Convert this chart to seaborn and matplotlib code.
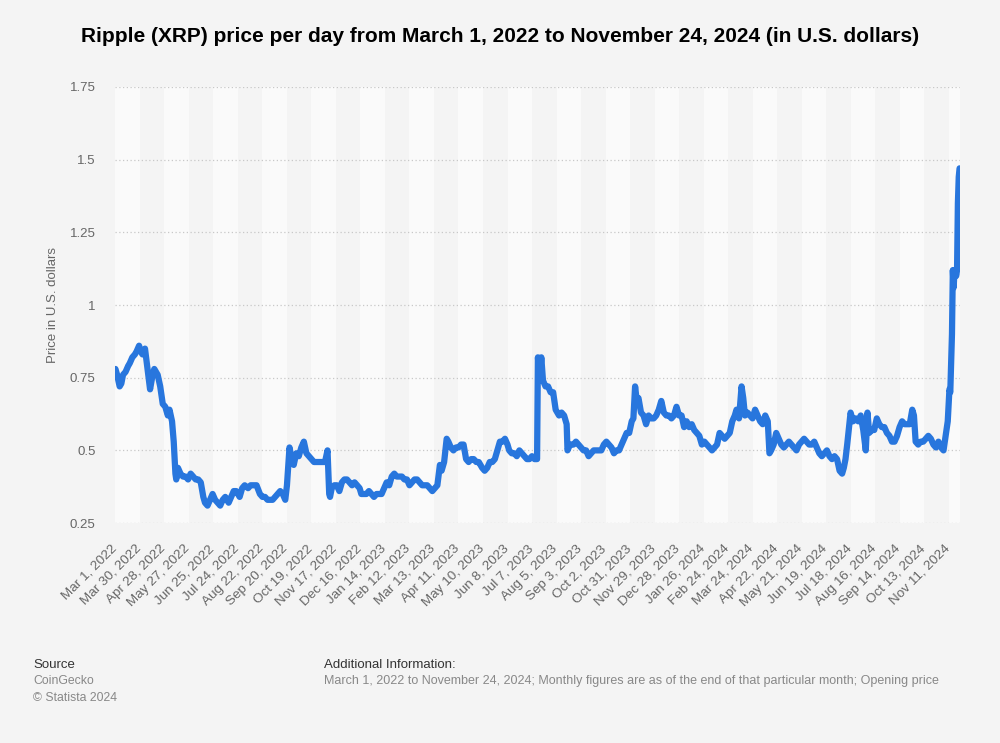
import matplotlib
matplotlib.use("Agg")
import matplotlib.pyplot as plt
import matplotlib.transforms as mtransforms
import seaborn as sns
import pandas as pd

# ---- data ----
dates = [
 "2022-03-01","2022-03-03","2022-03-06","2022-03-08","2022-03-10","2022-03-13","2022-03-16","2022-03-18","2022-03-21","2022-03-24","2022-03-26","2022-03-29","2022-03-31",
 "2022-04-02","2022-04-05","2022-04-08","2022-04-11","2022-04-14","2022-04-16","2022-04-20","2022-04-23","2022-04-26","2022-04-29",
 "2022-05-02","2022-05-04","2022-05-07","2022-05-09","2022-05-11","2022-05-12","2022-05-14","2022-05-17","2022-05-20","2022-05-23","2022-05-26","2022-05-29",
 "2022-06-01","2022-06-04","2022-06-07","2022-06-10","2022-06-13","2022-06-15","2022-06-18","2022-06-21","2022-06-24","2022-06-27","2022-06-30",
 "2022-07-03","2022-07-06","2022-07-09","2022-07-13","2022-07-16","2022-07-19","2022-07-22","2022-07-26","2022-07-29",
 "2022-08-01","2022-08-05","2022-08-08","2022-08-12","2022-08-15","2022-08-19","2022-08-22","2022-08-25","2022-08-28","2022-08-31",
 "2022-09-03","2022-09-06","2022-09-09","2022-09-12","2022-09-15","2022-09-18","2022-09-20","2022-09-23","2022-09-25","2022-09-28",
 "2022-10-01","2022-10-04","2022-10-07","2022-10-10","2022-10-13","2022-10-16","2022-10-19","2022-10-22","2022-10-26","2022-10-29",
 "2022-11-01","2022-11-04","2022-11-07","2022-11-09","2022-11-10","2022-11-12","2022-11-15","2022-11-18","2022-11-21","2022-11-24","2022-11-27","2022-11-30",
 "2022-12-03","2022-12-06","2022-12-09","2022-12-12","2022-12-15","2022-12-17","2022-12-20","2022-12-23","2022-12-26","2022-12-29",
 "2023-01-01","2023-01-04","2023-01-07","2023-01-10","2023-01-13","2023-01-16","2023-01-19","2023-01-22","2023-01-25","2023-01-28","2023-01-31",
 "2023-02-03","2023-02-06","2023-02-09","2023-02-12","2023-02-15","2023-02-18","2023-02-21","2023-02-24","2023-02-27",
 "2023-03-02","2023-03-05","2023-03-08","2023-03-11","2023-03-14","2023-03-17","2023-03-20","2023-03-22","2023-03-25","2023-03-28","2023-03-30",
 "2023-04-02","2023-04-05","2023-04-08","2023-04-11","2023-04-14","2023-04-17","2023-04-20","2023-04-23","2023-04-26","2023-04-29",
 "2023-05-02","2023-05-05","2023-05-09","2023-05-12","2023-05-15","2023-05-18","2023-05-21","2023-05-24","2023-05-27","2023-05-30",
 "2023-06-02","2023-06-05","2023-06-08","2023-06-10","2023-06-13","2023-06-16","2023-06-19","2023-06-22","2023-06-25","2023-06-28",
 "2023-07-01","2023-07-04","2023-07-07","2023-07-10","2023-07-13","2023-07-14","2023-07-16","2023-07-18","2023-07-20","2023-07-23","2023-07-26","2023-07-29",
 "2023-08-01","2023-08-04","2023-08-08","2023-08-11","2023-08-14","2023-08-17","2023-08-18","2023-08-21","2023-08-25","2023-08-28","2023-08-31",
 "2023-09-03","2023-09-06","2023-09-09","2023-09-12","2023-09-15","2023-09-18","2023-09-21","2023-09-24","2023-09-27","2023-09-30",
 "2023-10-03","2023-10-06","2023-10-09","2023-10-12","2023-10-15","2023-10-18","2023-10-21","2023-10-24","2023-10-27","2023-10-30",
 "2023-11-02","2023-11-04","2023-11-06","2023-11-08","2023-11-10","2023-11-13","2023-11-16","2023-11-19","2023-11-22","2023-11-25","2023-11-28",
 "2023-12-01","2023-12-04","2023-12-07","2023-12-10","2023-12-13","2023-12-16","2023-12-19","2023-12-22","2023-12-25","2023-12-28","2023-12-31",
 "2024-01-03","2024-01-06","2024-01-09","2024-01-12","2024-01-15","2024-01-18","2024-01-21","2024-01-24","2024-01-27","2024-01-30",
 "2024-02-02","2024-02-05","2024-02-08","2024-02-11","2024-02-14","2024-02-17","2024-02-20","2024-02-23","2024-02-26","2024-02-29",
 "2024-03-03","2024-03-05","2024-03-08","2024-03-11","2024-03-13","2024-03-15","2024-03-18","2024-03-21","2024-03-24","2024-03-27","2024-03-30",
 "2024-04-02","2024-04-05","2024-04-08","2024-04-11","2024-04-13","2024-04-15","2024-04-18","2024-04-21","2024-04-24","2024-04-27","2024-04-30",
 "2024-05-03","2024-05-06","2024-05-09","2024-05-12","2024-05-15","2024-05-18","2024-05-21","2024-05-24","2024-05-27","2024-05-30",
 "2024-06-02","2024-06-05","2024-06-08","2024-06-11","2024-06-14","2024-06-17","2024-06-20","2024-06-23","2024-06-26","2024-06-29",
 "2024-07-02","2024-07-05","2024-07-08","2024-07-10","2024-07-12","2024-07-14","2024-07-17","2024-07-18","2024-07-21","2024-07-24","2024-07-27","2024-07-30",
 "2024-08-02","2024-08-05","2024-08-07","2024-08-09","2024-08-12","2024-08-15","2024-08-18","2024-08-21","2024-08-24","2024-08-27","2024-08-30",
 "2024-09-02","2024-09-05","2024-09-08","2024-09-11","2024-09-14","2024-09-17","2024-09-20","2024-09-23","2024-09-26","2024-09-29",
 "2024-10-01","2024-10-03","2024-10-06","2024-10-09","2024-10-12","2024-10-15","2024-10-18","2024-10-21","2024-10-24","2024-10-27","2024-10-30",
 "2024-11-02","2024-11-05","2024-11-08","2024-11-10","2024-11-12","2024-11-13","2024-11-15","2024-11-16","2024-11-17","2024-11-18","2024-11-19","2024-11-20","2024-11-21","2024-11-22","2024-11-23","2024-11-24",
]
prices = [
 0.78,0.76,0.72,0.73,0.76,0.77,0.79,0.80,0.82,0.83,0.84,0.86,0.84,
 0.83,0.85,0.78,0.71,0.76,0.78,0.76,0.72,0.66,0.65,
 0.62,0.64,0.60,0.53,0.42,0.40,0.44,0.42,0.41,0.41,0.40,0.42,
 0.41,0.40,0.40,0.39,0.34,0.32,0.31,0.33,0.35,0.33,0.32,
 0.31,0.33,0.34,0.32,0.34,0.36,0.36,0.34,0.37,
 0.38,0.37,0.38,0.38,0.38,0.35,0.34,0.34,0.33,0.33,
 0.33,0.34,0.35,0.36,0.35,0.33,0.38,0.51,0.48,0.45,
 0.49,0.48,0.51,0.53,0.49,0.48,0.47,0.46,0.46,0.46,
 0.46,0.46,0.50,0.35,0.34,0.37,0.38,0.38,0.36,0.39,0.40,0.40,
 0.39,0.38,0.39,0.38,0.37,0.35,0.35,0.35,0.36,0.35,
 0.34,0.35,0.35,0.35,0.37,0.39,0.38,0.41,0.42,0.41,0.41,
 0.41,0.40,0.40,0.38,0.39,0.40,0.40,0.39,0.38,
 0.38,0.38,0.37,0.36,0.37,0.38,0.45,0.43,0.46,0.54,0.53,
 0.51,0.50,0.51,0.51,0.52,0.52,0.47,0.46,0.47,0.47,
 0.46,0.46,0.44,0.43,0.44,0.46,0.46,0.47,0.50,0.53,
 0.53,0.54,0.52,0.50,0.49,0.49,0.48,0.50,0.49,0.48,
 0.47,0.47,0.48,0.47,0.47,0.82,0.74,0.82,0.74,0.72,0.72,0.70,
 0.70,0.64,0.62,0.63,0.62,0.59,0.50,0.52,0.52,0.53,0.52,
 0.51,0.50,0.50,0.48,0.49,0.50,0.50,0.50,0.50,0.52,
 0.53,0.52,0.51,0.49,0.50,0.50,0.52,0.54,0.56,0.56,
 0.60,0.61,0.72,0.67,0.68,0.63,0.62,0.59,0.62,0.61,0.61,
 0.62,0.64,0.67,0.63,0.62,0.62,0.61,0.62,0.65,0.62,0.62,
 0.58,0.60,0.58,0.59,0.57,0.56,0.55,0.52,0.53,0.52,
 0.51,0.50,0.51,0.52,0.56,0.55,0.54,0.55,0.56,0.60,
 0.62,0.64,0.61,0.72,0.68,0.62,0.63,0.62,0.61,0.64,0.62,
 0.60,0.59,0.62,0.60,0.49,0.50,0.52,0.56,0.54,0.52,0.51,
 0.52,0.53,0.52,0.51,0.50,0.52,0.53,0.54,0.53,0.52,
 0.52,0.53,0.51,0.49,0.48,0.49,0.50,0.48,0.47,0.48,
 0.47,0.43,0.42,0.44,0.47,0.52,0.60,0.63,0.60,0.61,0.60,0.62,
 0.57,0.50,0.63,0.56,0.57,0.57,0.61,0.59,0.58,0.58,0.56,
 0.55,0.53,0.53,0.55,0.58,0.60,0.59,0.59,0.59,0.64,
 0.62,0.53,0.52,0.53,0.53,0.54,0.55,0.54,0.52,0.51,0.53,
 0.51,0.50,0.56,0.60,0.71,0.70,0.90,1.12,1.06,1.12,1.11,1.10,1.12,1.35,1.44,1.47,
]
tick_start = "2022-03-01"
tick_step_days = 29
n_ticks = 35
y_ticks = [0.25, 0.5, 0.75, 1.0, 1.25, 1.5, 1.75]
y_tick_labels = ["0.25", "0.5", "0.75", "1", "1.25", "1.5", "1.75"]

title = "Ripple (XRP) price per day from March 1, 2022 to November 24, 2024 (in U.S. dollars)"
ylabel = "Price in U.S. dollars"

df = pd.DataFrame({"date": pd.to_datetime(dates), "price": prices})

BG = "#f4f4f4"
sns.set_theme(style="white")
plt.rcParams["font.family"] = ["Liberation Sans", "DejaVu Sans"]

fig = plt.figure(figsize=(10, 7.43), dpi=100, facecolor=BG)
ax = fig.add_axes([0.115, 0.296, 0.845, 0.587])
ax.set_facecolor(BG)

tick_dates = pd.date_range(tick_start, periods=n_ticks, freq=f"{tick_step_days}D")
end = df["date"].max()
xmin = df["date"].min() - pd.Timedelta(hours=12)
xmax = end + pd.Timedelta(hours=12)

# alternating bands
edges = list(tick_dates) + [xmax]
for i in range(len(tick_dates)):
    if i % 2 == 0:
        ax.axvspan(edges[i], edges[i + 1], color="#fafafa", lw=0, zorder=0)

for yv in y_ticks:
    ax.axhline(yv, color="#c8c8c8", lw=0.9, ls=(0, (1, 2)), zorder=1)

sns.lineplot(data=df, x="date", y="price", ax=ax, color="#2876dd", lw=4.5,
             solid_capstyle="round", solid_joinstyle="round", zorder=3)

ax.set_xlim(xmin, xmax)
ax.set_ylim(0.25, 1.75)
ax.set_yticks(y_ticks)
ax.set_yticklabels(y_tick_labels)
ax.set_xticks(tick_dates)
ax.set_xticklabels([f"{d.strftime('%b')} {d.day}, {d.year}" for d in tick_dates],
                   rotation=45, ha="right", rotation_mode="anchor")
ax.tick_params(axis="x", length=0, pad=14, labelsize=9.7, labelcolor="#666666")
ax.tick_params(axis="y", length=0, pad=19, labelsize=9.5, labelcolor="#666666")
off = mtransforms.ScaledTranslation(-5 / 100, 0, fig.dpi_scale_trans)
for lab in ax.get_xticklabels():
    lab.set_transform(lab.get_transform() + off)
ax.yaxis.set_tick_params(pad=19)
for lab in ax.get_yticklabels():
    lab.set_transform(lab.get_transform() + mtransforms.ScaledTranslation(7 / 100, 0, fig.dpi_scale_trans))
for s in ax.spines.values():
    s.set_visible(False)
ax.set_xlabel("")
ax.set_ylabel("")
fig.text(0.053, 0.589, ylabel, rotation=90, ha="center", va="center",
         fontsize=9.5, color="#666666")

fig.text(0.5, 0.951, title, ha="center", va="center", fontsize=15,
         fontweight="bold", color="#000000")

fig.text(0.033, 0.105, "Source", fontsize=9.5, color="#333333", va="center")
fig.text(0.033, 0.083, "CoinGecko", fontsize=8.8, color="#888888", va="center")
fig.text(0.033, 0.061, "\u00a9 Statista 2024", fontsize=8.8, color="#888888", va="center")
fig.text(0.324, 0.105, "Additional Information:", fontsize=9.5, color="#333333", va="center")
fig.text(0.324, 0.083,
         "March 1, 2022 to November 24, 2024; Monthly figures are as of the end of that particular month; Opening price",
         fontsize=9.0, color="#888888", va="center")

fig.savefig("out.png", dpi=100, facecolor=BG)
